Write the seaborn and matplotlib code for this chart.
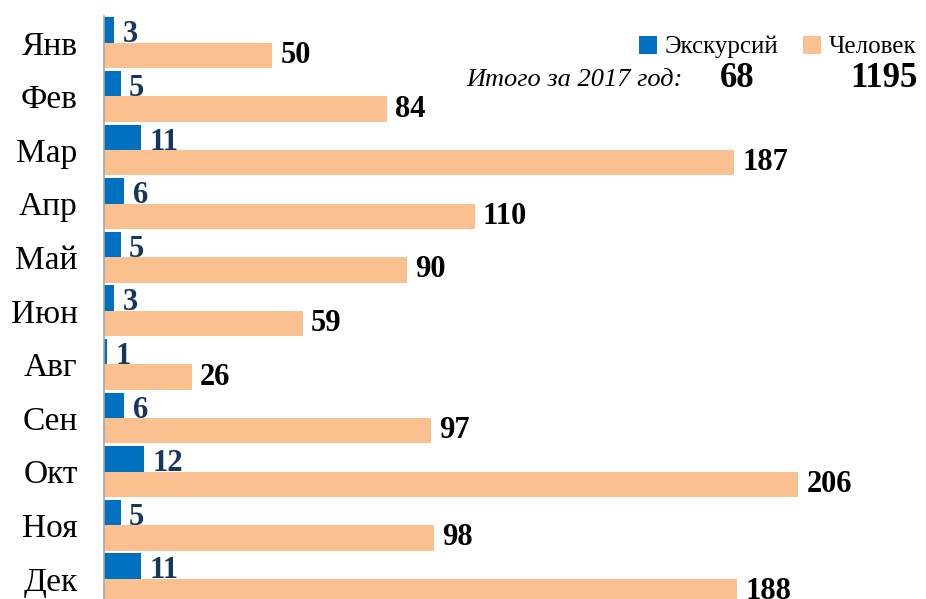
import matplotlib
matplotlib.use("Agg")
import matplotlib.pyplot as plt
from matplotlib.ticker import FixedLocator
from matplotlib.patches import Patch
import seaborn as sns
import pandas as pd

months = ["Янв", "Фев", "Мар", "Апр", "Май", "Июн", "Авг", "Сен", "Окт", "Ноя", "Дек"]
excursions = [3, 5, 11, 6, 5, 3, 1, 6, 12, 5, 11]
people = [50, 84, 187, 110, 90, 59, 26, 97, 206, 98, 188]
series_names = ["Экскурсий", "Человек"]
total_label = "Итого за 2017 год:"
totals = [68, 1195]

colors = ["#0070C0", "#FAC090"]
label_colors = ["#17365D", "#000000"]

df = pd.DataFrame({
    "month": months * 2,
    "value": excursions + people,
    "series": [series_names[0]] * len(months) + [series_names[1]] * len(months),
})

sns.set_theme(style="white")
plt.rcParams["font.family"] = ["Liberation Serif", "DejaVu Serif"]
plt.rcParams["text.color"] = "black"
plt.rcParams["ytick.labelcolor"] = "black"

W, H = 926, 599
fig = plt.figure(figsize=(W / 100, H / 100), dpi=100)
left, top, cat_h = 104, 16, 53.6
bottom_px = top + cat_h * len(months)
ax = fig.add_axes([left / W, (H - bottom_px) / H, (W - left) / W, (bottom_px - top) / H])

sns.barplot(data=df, y="month", x="value", hue="series", order=months,
            hue_order=series_names, palette=colors, width=0.95, orient="h",
            saturation=1, linewidth=0, edgecolor="none", ax=ax, legend=False)

ax.set_xlim(0, (W - left) / 3.369)
ax.set_ylim(len(months) - 0.5, -0.5)
ax.set_xlabel("")
ax.set_ylabel("")
ax.set_xticks([])
for s in ["top", "right", "bottom"]:
    ax.spines[s].set_visible(False)
ax.spines["left"].set_color("#A6A6A6")
ax.spines["left"].set_linewidth(1.2)

ax.tick_params(axis="y", which="major", length=0, pad=19, labelsize=24, labelcolor="black")
ax.yaxis.set_minor_locator(FixedLocator([i - 0.5 for i in range(len(months) + 1)]))
ax.tick_params(axis="y", which="minor", length=6, width=1.2, color="#A6A6A6")

for i, (cont, c) in enumerate(zip(ax.containers, label_colors)):
    texts = ax.bar_label(cont, padding=6, fontsize=22, fontweight="bold", color=c)
    if i == 0:
        for t in texts:
            x0, y0 = t.xyann
            t.xyann = (x0, y0 - 3.5)

handles = [Patch(facecolor=colors[i], edgecolor="none", label=series_names[i]) for i in range(2)]
fig.legend(handles=handles, loc="center right", bbox_to_anchor=(1.0, 1 - 47 / H),
           ncol=2, frameon=False, fontsize=18, handlelength=0.72, handleheight=0.72,
           handletextpad=0.3, columnspacing=1.0, borderaxespad=0.0)

fig.text(683 / W, 1 - 86 / H, total_label, ha="right", va="baseline",
         fontsize=19, fontstyle="italic")
fig.text(737 / W, 1 - 87 / H, str(totals[0]), ha="center", va="baseline",
         fontsize=25, fontweight="bold")
fig.text(918 / W, 1 - 87 / H, str(totals[1]), ha="right", va="baseline",
         fontsize=25, fontweight="bold")

fig.savefig("out.png", dpi=100)
